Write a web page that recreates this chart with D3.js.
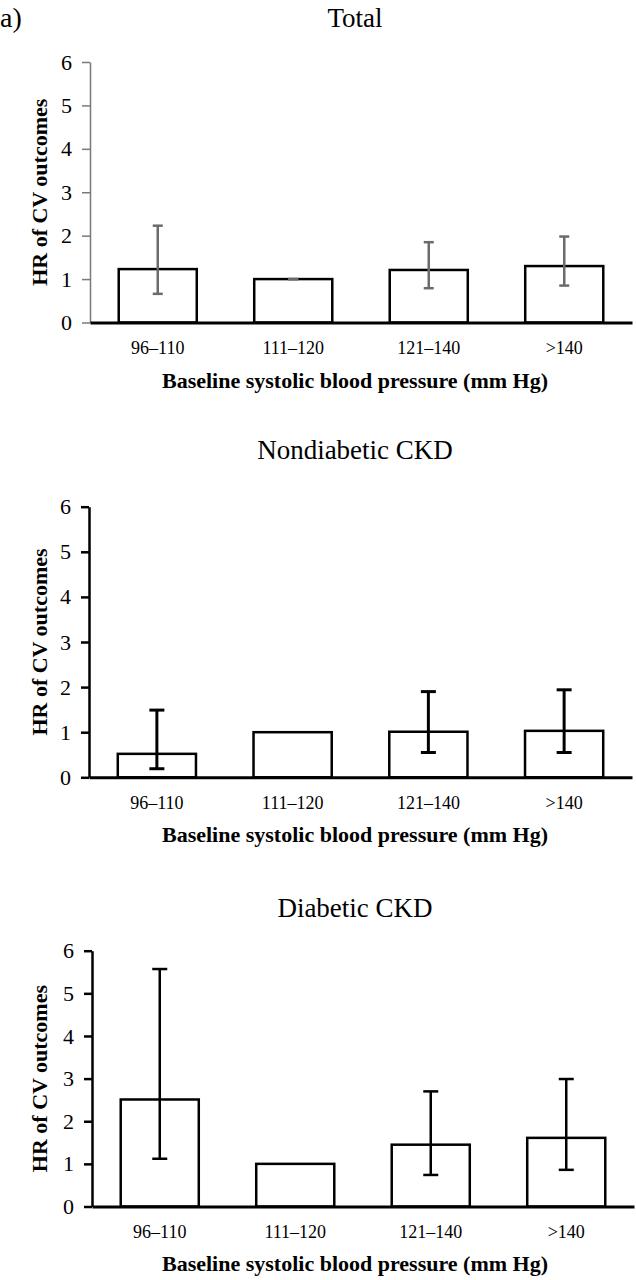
<!DOCTYPE html>
<html><head><meta charset="utf-8">
<script src="https://cdn.jsdelivr.net/npm/d3@7"></script>
<style>body{margin:0;background:#fff}svg{display:block}</style>
</head><body>
<script>
const categories = ["96\u2013110", "111\u2013120", "121\u2013140", ">140"];
const yTicks = [0, 1, 2, 3, 4, 5, 6];
const panelTitles = ["Total", "Nondiabetic CKD", "Diabetic CKD"];
const totalHR = [1.23, 1.00, 1.21, 1.30];
const totalLo = [0.66, 1.00, 0.79, 0.85];
const totalHi = [2.23, 1.00, 1.85, 1.98];
const nondiabHR = [0.52, 1.00, 1.01, 1.03];
const nondiabLo = [0.19, null, 0.55, 0.55];
const nondiabHi = [1.49, null, 1.90, 1.94];
const diabHR = [2.51, 1.00, 1.45, 1.61];
const diabLo = [1.12, null, 0.74, 0.86];
const diabHi = [5.57, null, 2.70, 2.99];
const yLabel = "HR of CV outcomes";
const xLabel = "Baseline systolic blood pressure (mm Hg)";

const W = 636, H = 1280;
const svg = d3.select("body").append("svg").attr("width", W).attr("height", H);
const serif = "'Liberation Serif','Times New Roman',serif";

svg.append("text").attr("x", 0).attr("y", 27).attr("font-family", serif)
  .attr("font-size", 28).text("a)");

const panels = [
  {title: panelTitles[0], hr: totalHR, lo: totalLo, hi: totalHi, y0: 322.5, y6: 62, x0: 90, x1: 632,
   titleY: 27, axisColor: "#7a7a7a", axisW: 1.5, errColor: "#6b6b6b", errW: 2.5, cap: 10, labY: 354, xtY: 388},
  {title: panelTitles[1], hr: nondiabHR, lo: nondiabLo, hi: nondiabHi, y0: 777.3, y6: 506.7, x0: 89, x1: 632,
   titleY: 459, axisColor: "#000", axisW: 2.5, errColor: "#000", errW: 3, cap: 15, labY: 809, xtY: 842},
  {title: panelTitles[2], hr: diabHR, lo: diabLo, hi: diabHi, y0: 1206.5, y6: 950.7, x0: 92, x1: 634,
   titleY: 917, axisColor: "#000", axisW: 2.5, errColor: "#000", errW: 2.5, cap: 15, labY: 1238, xtY: 1271}
];

panels.forEach(p => {
  const g = svg.append("g");
  const x = d3.scaleBand().domain(categories).range([p.x0, p.x1]).paddingInner(0.424).paddingOuter(0.212);
  const y = d3.scaleLinear().domain([0, 6]).range([p.y0, p.y6]);

  // title
  g.append("text").attr("x", 355).attr("y", p.titleY).attr("text-anchor", "middle")
    .attr("font-family", serif).attr("font-size", 27).text(p.title);

  // y axis
  const ya = g.append("g").attr("transform", `translate(${p.x0},0)`)
    .call(d3.axisLeft(y).tickValues(yTicks).tickSize(8).tickSizeOuter(0).tickPadding(10).tickFormat(d3.format("d")));
  ya.select(".domain").attr("stroke", p.axisColor).attr("stroke-width", p.axisW);
  ya.selectAll(".tick line").attr("stroke", p.axisColor).attr("stroke-width", p.axisW);
  ya.selectAll(".tick text").attr("font-family", serif).attr("font-size", 22).attr("fill", "#000");

  // y label
  g.append("text").attr("transform", `translate(47,${(p.y0 + p.y6) / 2}) rotate(-90)`)
    .attr("text-anchor", "middle").attr("font-family", serif).attr("font-weight", "bold")
    .attr("font-size", 22).text(yLabel);

  // bars
  g.selectAll("rect.bar").data(categories).join("rect").attr("class", "bar")
    .attr("x", d => x(d)).attr("width", x.bandwidth())
    .attr("y", (d, i) => y(p.hr[i])).attr("height", (d, i) => y(0) - y(p.hr[i]))
    .attr("fill", "#fff").attr("stroke", "#000").attr("stroke-width", 2.5);

  // x axis baseline
  const xa = g.append("g").attr("transform", `translate(0,${y(0)})`)
    .call(d3.axisBottom(x).tickSize(0).tickSizeOuter(0).tickPadding(22));
  xa.select(".domain").attr("stroke", "#000").attr("stroke-width", 3);
  xa.selectAll(".tick text").attr("font-family", serif).attr("font-size", 18).attr("fill", "#000")
    .attr("dy", null).attr("y", p.labY - y(0));

  // error bars
  const eg = g.append("g").attr("stroke", p.errColor).attr("stroke-width", p.errW);
  categories.forEach((c, i) => {
    if (p.lo[i] == null) return;
    const cx = x(c) + x.bandwidth() / 2;
    eg.append("line").attr("x1", cx).attr("x2", cx).attr("y1", y(p.lo[i])).attr("y2", y(p.hi[i]));
    [p.lo[i], p.hi[i]].forEach(v => {
      eg.append("line").attr("x1", cx - p.cap / 2).attr("x2", cx + p.cap / 2).attr("y1", y(v)).attr("y2", y(v));
    });
  });

  // x label
  g.append("text").attr("x", 355).attr("y", p.xtY).attr("text-anchor", "middle")
    .attr("font-family", serif).attr("font-weight", "bold").attr("font-size", 22).text(xLabel);
});
</script>
</body></html>
